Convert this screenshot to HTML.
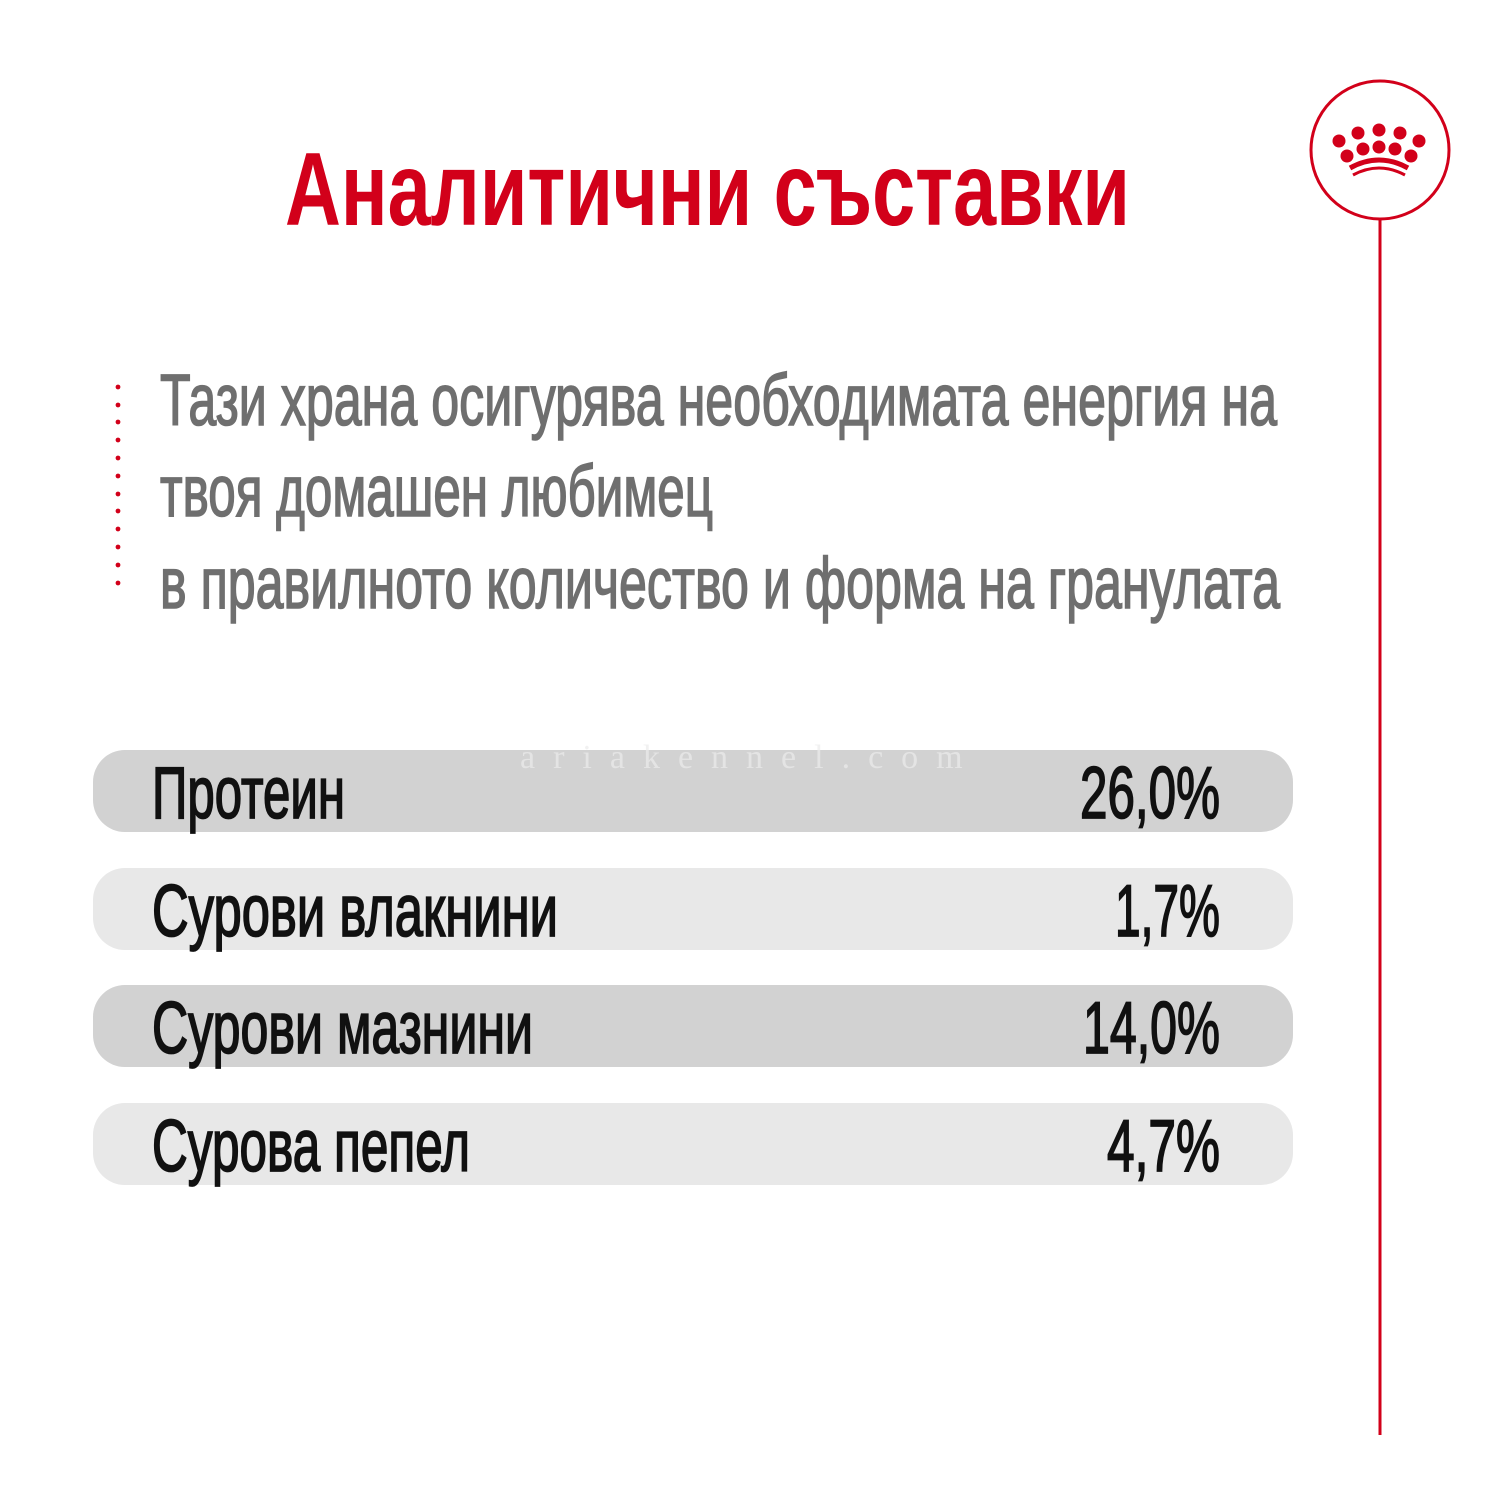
<!DOCTYPE html>
<html><head><meta charset="utf-8"><style>
html,body{margin:0;padding:0;background:#fff;}
svg{display:block;}
</style></head><body>
<svg width="1500" height="1500" viewBox="0 0 1500 1500" xmlns="http://www.w3.org/2000/svg">
<rect width="1500" height="1500" fill="#fff"/>
<!-- logo -->
<circle cx="1380" cy="150" r="69" fill="none" stroke="#d2001a" stroke-width="3"/>
<line x1="1380" y1="219" x2="1380" y2="1435" stroke="#d2001a" stroke-width="3"/>
<g fill="#d2001a">
<circle cx="1339" cy="141" r="6.5"/><circle cx="1358" cy="133" r="6.5"/><circle cx="1379" cy="130" r="6.5"/><circle cx="1400" cy="133" r="6.5"/><circle cx="1419" cy="141" r="6.5"/>
<circle cx="1347" cy="156" r="6.5"/><circle cx="1363" cy="149" r="6.5"/><circle cx="1379" cy="147" r="6.5"/><circle cx="1395" cy="149" r="6.5"/><circle cx="1411" cy="156" r="6.5"/>
</g>
<path d="M1350 168 Q1379 152 1408 168" fill="none" stroke="#d2001a" stroke-width="5"/>
<path d="M1353 175 Q1379 161 1405 175" fill="none" stroke="#d2001a" stroke-width="3"/>
<!-- title -->
<text x="285" y="225" textLength="845" lengthAdjust="spacingAndGlyphs" font-family="'Liberation Sans Narrow','Liberation Sans',sans-serif" font-weight="bold" font-size="104" fill="#d2001a">Аналитични съставки</text>
<!-- dots -->
<g fill="#d2001a">
<circle cx="118" cy="387" r="2.4"/><circle cx="118" cy="405" r="2.4"/><circle cx="118" cy="422" r="2.4"/><circle cx="118" cy="440" r="2.4"/><circle cx="118" cy="458" r="2.4"/><circle cx="118" cy="476" r="2.4"/><circle cx="118" cy="494" r="2.4"/><circle cx="118" cy="511" r="2.4"/><circle cx="118" cy="529" r="2.4"/><circle cx="118" cy="547" r="2.4"/><circle cx="118" cy="565" r="2.4"/><circle cx="118" cy="583" r="2.4"/>
</g>
<g font-family="'Liberation Sans Narrow','Liberation Sans',sans-serif" font-size="72" fill="#6f6f6f" stroke="#6f6f6f" stroke-width="1.6">
<text x="160" y="425" textLength="1117" lengthAdjust="spacingAndGlyphs">Тази храна осигурява необходимата енергия на</text>
<text x="160" y="516" textLength="553" lengthAdjust="spacingAndGlyphs">твоя домашен любимец</text>
<text x="160" y="608" textLength="1120" lengthAdjust="spacingAndGlyphs">в правилното количество и форма на гранулата</text>
</g>
<!-- bars -->
<rect x="93" y="750" width="1200" height="82" rx="32" fill="#d2d2d2"/>
<rect x="93" y="868" width="1200" height="82" rx="32" fill="#e8e8e8"/>
<rect x="93" y="985" width="1200" height="82" rx="32" fill="#d2d2d2"/>
<rect x="93" y="1103" width="1200" height="82" rx="32" fill="#e8e8e8"/>
<text x="520" y="768" font-family="'Liberation Serif',serif" font-size="34" letter-spacing="18" fill="#ececec" opacity="0.7">ariakennel.com</text>
<g font-family="'Liberation Sans Narrow','Liberation Sans',sans-serif" font-size="73" fill="#111" stroke="#111" stroke-width="1.8">
<text x="152" y="818" textLength="193" lengthAdjust="spacingAndGlyphs">Протеин</text>
<text x="152" y="936" textLength="406" lengthAdjust="spacingAndGlyphs">Сурови влакнини</text>
<text x="152" y="1053" textLength="381" lengthAdjust="spacingAndGlyphs">Сурови мазнини</text>
<text x="152" y="1171" textLength="318" lengthAdjust="spacingAndGlyphs">Сурова пепел</text>
<text x="1080" y="818" textLength="140" lengthAdjust="spacingAndGlyphs">26,0%</text>
<text x="1115" y="936" textLength="105" lengthAdjust="spacingAndGlyphs">1,7%</text>
<text x="1083" y="1053" textLength="137" lengthAdjust="spacingAndGlyphs">14,0%</text>
<text x="1107" y="1171" textLength="113" lengthAdjust="spacingAndGlyphs">4,7%</text>
</g>
</svg>
</body></html>
